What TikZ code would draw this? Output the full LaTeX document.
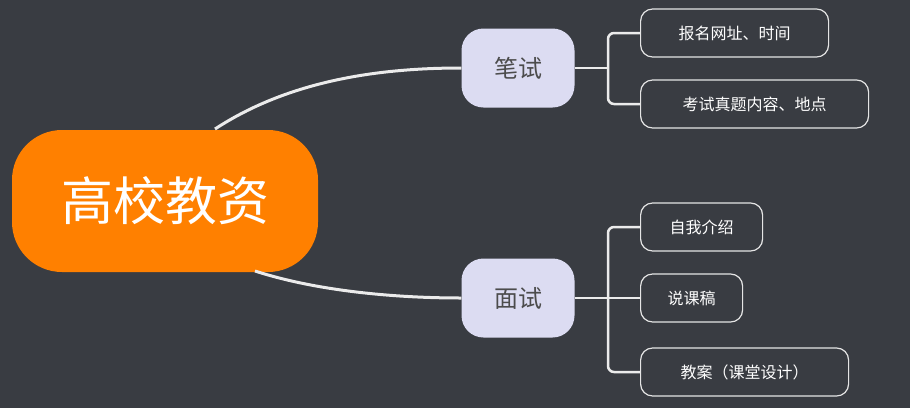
\documentclass[tikz,border=0pt]{standalone}
\usepackage{fontspec}
\setmainfont{Noto Sans CJK SC}
\begin{document}
\begin{tikzpicture}[x=1pt,y=-1pt,
  line/.style={draw=white!92!black,line width=3pt},
  leaf/.style={draw=white!90!black,line width=1.2pt,rounded corners=12pt,text=white,font=\fontsize{16}{18}\selectfont,minimum height=48pt,inner sep=0pt,anchor=west},
  mid/.style={fill=white!91!blue!95!black,rounded corners=22pt,text=black!70,font=\fontsize{24}{26}\selectfont,minimum width=113pt,minimum height=79pt,inner sep=0pt}]
\fill[fill={rgb,255:red,57;green,60;blue,66}] (0,0) rectangle (910,408);
\useasboundingbox (0,0) rectangle (910,408);
\node[fill={rgb,255:red,255;green,128;blue,0},rounded corners=50pt,text=white,font=\fontsize{52}{56}\selectfont,minimum width=306pt,minimum height=142pt,inner sep=0pt] (root) at (165,201) {高校教资};
\node[mid] (bs) at (518,68) {笔试};
\node[mid] (ms) at (518,298) {面试};
\node[leaf,minimum width=188pt] (a1) at (640,33) {报名网址、时间};
\node[leaf,minimum width=228pt] (a2) at (640,104) {考试真题内容、地点};
\node[leaf,minimum width=122pt] (b1) at (640,227) {自我介绍};
\node[leaf,minimum width=102pt] (b2) at (640,298) {说课稿};
\node[leaf,minimum width=208pt] (b3) at (640,372) {教案（课堂设计）};
\begin{scope}[on background layer/.style={}]
\draw[line] (215,129) .. controls (290,80) and (380,68) .. (bs.west);
\draw[line] (255,271) .. controls (320,292) and (400,298) .. (ms.west);
\end{scope}
\draw[line,line width=2.5pt] (bs.east) -- (608,68);
\draw[line,line width=2.5pt,rounded corners=6pt] (a1.west) -| (608,68) |- (a2.west);
\draw[line,line width=2.5pt] (ms.east) -- (b2.west);
\draw[line,line width=2.5pt,rounded corners=6pt] (b1.west) -| (608,298) |- (b3.west);
\end{tikzpicture}
\end{document}
